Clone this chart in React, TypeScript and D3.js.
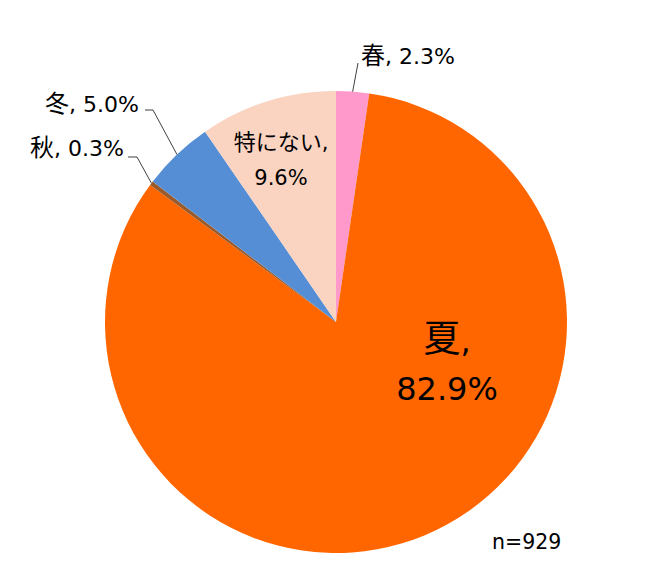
import React from "react";
import * as d3 from "d3";

const categories = ["春", "夏", "秋", "冬", "特にない"];
const values = [2.3, 82.9, 0.3, 5.0, 9.6];
const colors = ["#FF99CC", "#FF6600", "#9B5A2A", "#558ED5", "#FBD3C1"];
const sampleLabel = "n=929";

const W = 664, H = 587;
const cx = 336, cy = 322, R = 231;
const font = "'DejaVu Sans', 'Noto Sans CJK JP', sans-serif";
const cjk = "'Noto Sans CJK JP', sans-serif";

export default function App() {
  const pie = d3.pie<number>().sort(null).value(d => d)(values);
  const arc = d3.arc<d3.PieArcDatum<number>>().innerRadius(0).outerRadius(R);
  const fmt = (v: number) => v.toFixed(1) + "%";
  const onArc = (a: number, r: number) => [cx + r * Math.sin(a), cy - r * Math.cos(a)];
  const mid = (i: number) => (pie[i].startAngle + pie[i].endAngle) / 2;

  const springEnd = onArc(mid(0), R);
  const autumnEnd = onArc(mid(2), R);
  const winterEnd = onArc(mid(3), R);

  const label = (i: number, x: number, y: number, anchor: string, cjkSize: number, size: number) => (
    <text x={x} y={y} fontSize={size} fill="#000" textAnchor={anchor}>
      <tspan fontFamily={cjk} fontSize={cjkSize}>{categories[i]}</tspan>
      <tspan>{`, ${fmt(values[i])}`}</tspan>
    </text>
  );

  return (
    <svg width={W} height={H} style={{ position: "absolute", left: 0, top: 0, background: "#fff" }} fontFamily={font}>
      <g transform={`translate(${cx},${cy})`}>
        {pie.map((p, i) => (
          <path key={categories[i]} d={arc(p) || ""} fill={colors[i]} />
        ))}
      </g>
      <polyline points={`358,63 ${springEnd[0]},${springEnd[1]}`} fill="none" stroke="#404040" strokeWidth={1} />
      <polyline points={`145,110 153,110 ${winterEnd[0]},${winterEnd[1]}`} fill="none" stroke="#404040" strokeWidth={1} />
      <polyline points={`128,157 137,157 ${autumnEnd[0]},${autumnEnd[1]}`} fill="none" stroke="#404040" strokeWidth={1} />

      {label(0, 361, 64, "start", 24, 22)}
      {label(3, 139, 112, "end", 24, 22)}
      {label(2, 124, 156, "end", 24, 22)}
      <text x={281} y={150} fontSize={21} fill="#000" textAnchor="middle">
        <tspan fontFamily={cjk} fontSize={22}>{categories[4]}</tspan>
        <tspan>,</tspan>
      </text>
      <text x={281} y={185} fontSize={21} fill="#000" textAnchor="middle">{fmt(values[4])}</text>
      <text x={447} y={352} fontSize={32} fill="#000" textAnchor="middle">
        <tspan fontFamily={cjk} fontSize={37}>{categories[1]}</tspan>
        <tspan>,</tspan>
      </text>
      <text x={447} y={400} fontSize={32} fill="#000" textAnchor="middle">{fmt(values[1])}</text>
      <text x={492} y={549} fontSize={20.5} fill="#000">{sampleLabel}</text>
    </svg>
  );
}
